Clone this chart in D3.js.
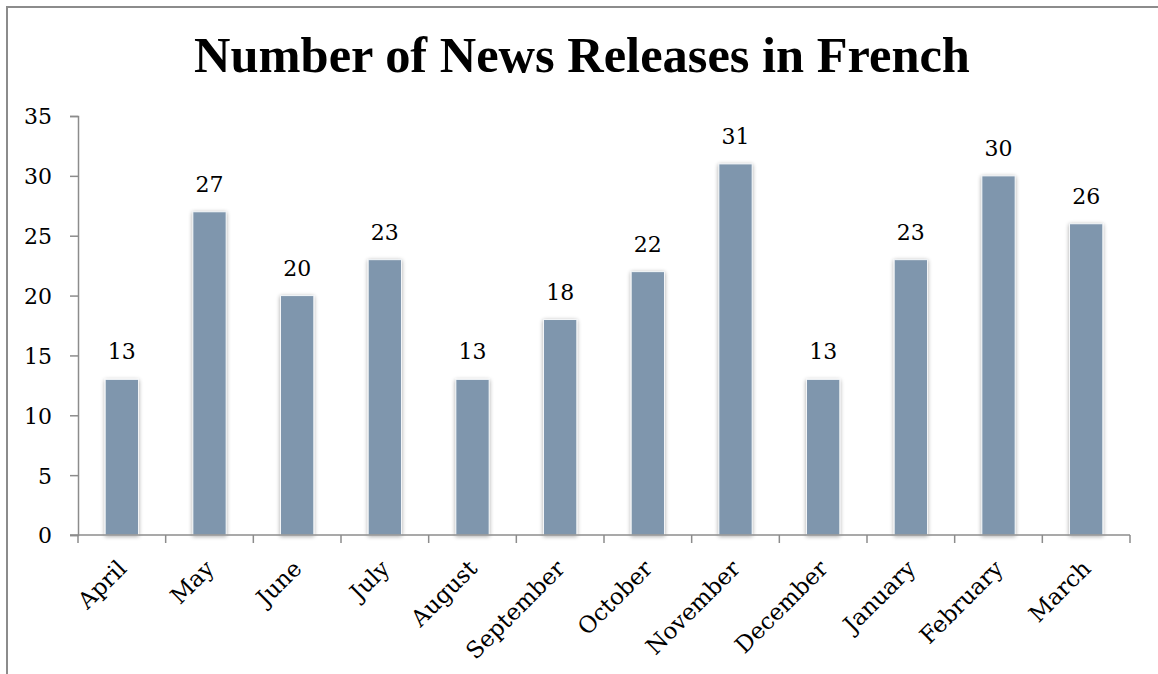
<!DOCTYPE html>
<html lang="en">
<head>
    <meta charset="UTF-8">
    <title>Number of News Releases in French</title>
    <script src="https://d3js.org/d3.v7.min.js"></script>
    <style>
        body, html {
            margin: 0;
            padding: 0;
            background: #fff;
        }
        svg text {
            font-family: "DejaVu Serif", "Liberation Serif", serif;
            fill: #000;
        }
    </style>
</head>
<body>
    <div id="chart"></div>
    <script>
        const months = ["April", "May", "June", "July", "August", "September",
            "October", "November", "December", "January", "February", "March"];
        const releases = [13, 27, 20, 23, 13, 18, 22, 31, 13, 23, 30, 26];
        const yTicks = [0, 5, 10, 15, 20, 25, 30, 35];

        const W = 1158, H = 674;
        const margin = { top: 116, right: 28, bottom: 140, left: 78 };
        const width = W - margin.left - margin.right,
            height = 535 - margin.top;

        const svg = d3.select("#chart").append("svg")
            .attr("width", W)
            .attr("height", H);

        // soft shadow round the bars
        const defs = svg.append("defs");
        const f = defs.append("filter").attr("id", "shadow")
            .attr("x", "-30%").attr("y", "-10%").attr("width", "160%").attr("height", "120%");
        f.append("feGaussianBlur").attr("in", "SourceAlpha").attr("stdDeviation", 2).attr("result", "b");
        f.append("feOffset").attr("in", "b").attr("dx", 0).attr("dy", 1).attr("result", "o");
        f.append("feComponentTransfer").attr("in", "o").attr("result", "s")
            .append("feFuncA").attr("type", "linear").attr("slope", 0.35);
        const m = f.append("feMerge");
        m.append("feMergeNode").attr("in", "s");
        m.append("feMergeNode").attr("in", "SourceGraphic");

        // outer frame
        svg.append("path")
            .attr("d", `M7,${H} V7 H${W}`)
            .attr("fill", "none")
            .attr("stroke", "#8c8c8c")
            .attr("stroke-width", 2);

        const title = svg.append("text")
            .attr("x", 582)
            .attr("y", 72)
            .attr("text-anchor", "middle")
            .style("font-family", "'Liberation Serif', serif")
            .style("font-size", "48px")
            .style("font-weight", "bold")
            .text("Number of News Releases in French");
        const tw = title.node().getComputedTextLength();
        if (tw > 0) title.style("font-size", (48 * 776 / tw) + "px");

        const g = svg.append("g")
            .attr("transform", `translate(${margin.left},${margin.top})`);

        const x = d3.scaleBand()
            .domain(months)
            .range([0, width])
            .paddingInner(0.62)
            .paddingOuter(0.31);
        const y = d3.scaleLinear()
            .domain([0, 35])
            .range([height, 0]);

        const axisColor = "#8c8c8c";

        const yAxis = g.append("g")
            .call(d3.axisLeft(y).tickValues(yTicks).tickSize(8).tickPadding(18));
        yAxis.select(".domain").attr("stroke", axisColor).attr("stroke-width", 1.5);
        yAxis.selectAll(".tick line").attr("stroke", axisColor).attr("stroke-width", 1.5);
        yAxis.selectAll("text")
            .style("font-family", "'DejaVu Serif', serif")
            .style("font-size", "22px").attr("dy", "0.36em");

        const xb = d3.scaleBand().domain(months).range([0, width]);

        g.selectAll(".bar")
            .data(releases)
            .enter().append("rect")
            .attr("class", "bar")
            .attr("x", (d, i) => x(months[i]))
            .attr("width", x.bandwidth())
            .attr("y", d => y(d))
            .attr("height", d => height - y(d))
            .attr("fill", "#7f96ad")
            .attr("stroke", "#f4f6f8")
            .attr("stroke-width", 1)
            .attr("filter", "url(#shadow)");

        // x axis baseline and band ticks
        const xAxisG = g.append("g").attr("transform", `translate(0,${height})`);
        xAxisG.append("line")
            .attr("x1", -8).attr("x2", width)
            .attr("stroke", axisColor).attr("stroke-width", 1.5);
        xAxisG.selectAll(".xtick")
            .data(months.concat(["end"]))
            .enter().append("line")
            .attr("x1", (d, i) => i * xb.step())
            .attr("x2", (d, i) => i * xb.step())
            .attr("y1", 0).attr("y2", 8)
            .attr("stroke", axisColor).attr("stroke-width", 1.5);

        xAxisG.selectAll(".xlabel")
            .data(months)
            .enter().append("text")
            .attr("text-anchor", "end")
            .style("font-size", "23px")
            .attr("transform", d => `translate(${xb(d) + xb.bandwidth() / 2 + 6},${35}) rotate(-45)`)
            .text(d => d);

        g.selectAll(".label")
            .data(releases)
            .enter().append("text")
            .attr("x", (d, i) => x(months[i]) + x.bandwidth() / 2)
            .attr("y", d => y(d) - 20)
            .attr("text-anchor", "middle")
            .style("font-size", "22px")
            .text(d => d);
    </script>
</body>
</html>
